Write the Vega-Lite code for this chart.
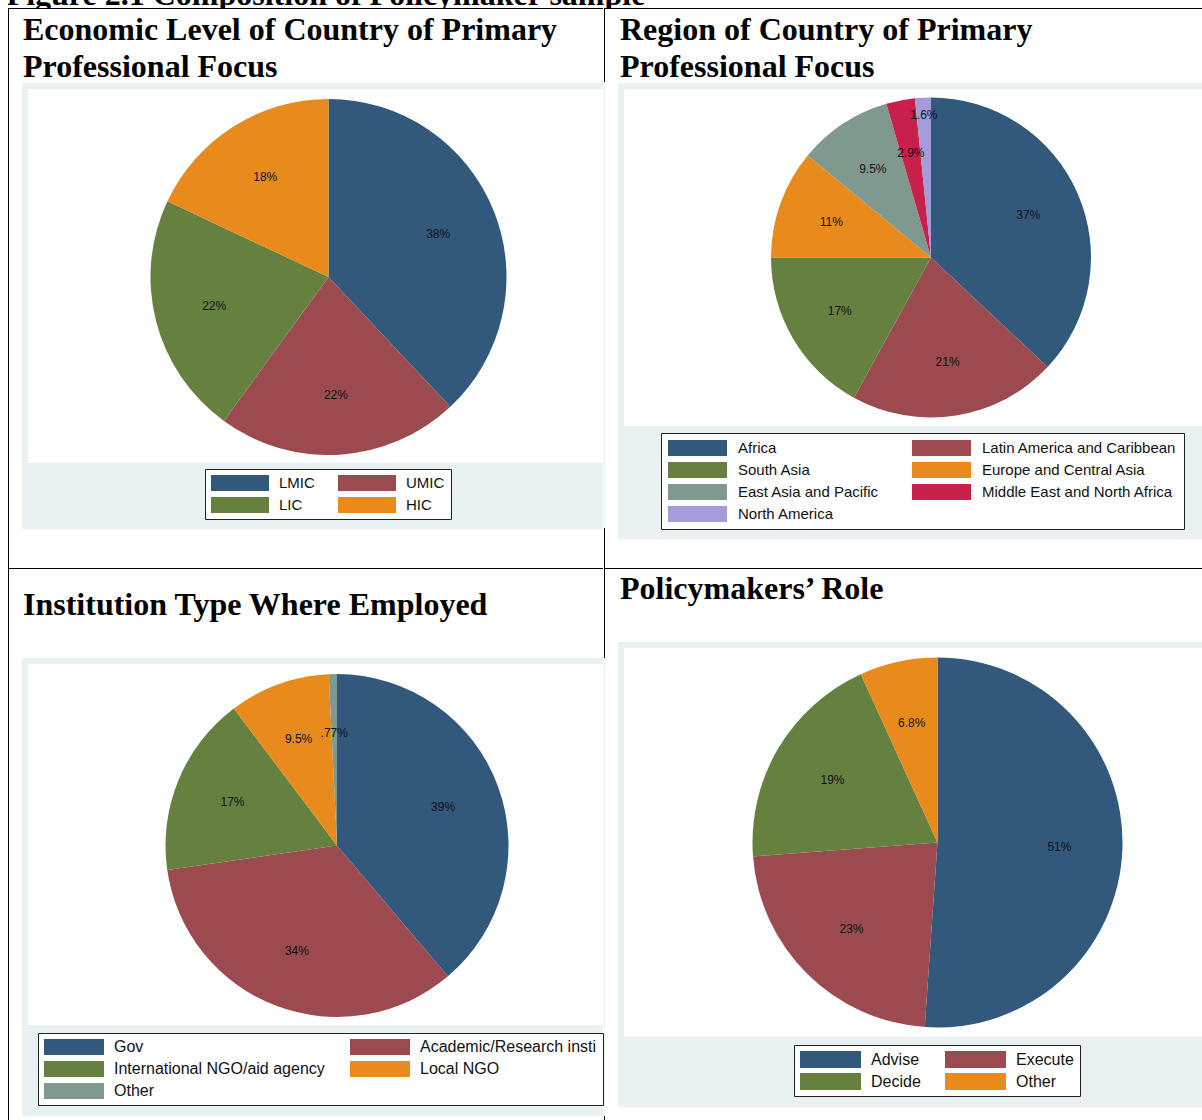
{
  "$schema": "https://vega.github.io/schema/vega-lite/v6.json",
  "padding": {"left": 8, "top": 0, "right": 0, "bottom": 0},
  "background": "#ffffff",
  "datasets": {
    "fig": [{"t": "Figure 2.1 Composition of Policymaker sample"}],
    "one": [{"z": 0}],
    "p1": [
      {"k": "LMIC", "v": 38, "i": 1, "lab": "38%"},
      {"k": "UMIC", "v": 22, "i": 2, "lab": "22%"},
      {"k": "LIC", "v": 22, "i": 3, "lab": "22%"},
      {"k": "HIC", "v": 18, "i": 4, "lab": "18%"}
    ],
    "p2": [
      {"k": "Africa", "v": 37, "i": 1, "lab": "37%"},
      {"k": "Latin America and Caribbean", "v": 21, "i": 2, "lab": "21%"},
      {"k": "South Asia", "v": 17, "i": 3, "lab": "17%"},
      {"k": "Europe and Central Asia", "v": 11, "i": 4, "lab": "11%"},
      {"k": "East Asia and Pacific", "v": 9.5, "i": 5, "lab": "9.5%"},
      {"k": "Middle East and North Africa", "v": 2.9, "i": 6, "lab": "2.9%"},
      {"k": "North America", "v": 1.6, "i": 7, "lab": "1.6%"}
    ],
    "p3": [
      {"k": "Gov", "v": 38.8, "i": 1, "lab": "39%"},
      {"k": "Academic/Research institution", "v": 33.9, "i": 2, "lab": "34%"},
      {"k": "International NGO/aid agency", "v": 17.0, "i": 3, "lab": "17%"},
      {"k": "Local NGO", "v": 9.5, "i": 4, "lab": "9.5%"},
      {"k": "Other", "v": 0.77, "i": 5, "lab": ".77%"}
    ],
    "p4": [
      {"k": "Advise", "v": 51.1, "i": 1, "lab": "51%"},
      {"k": "Execute", "v": 22.7, "i": 2, "lab": "23%"},
      {"k": "Decide", "v": 19.4, "i": 3, "lab": "19%"},
      {"k": "Other", "v": 6.8, "i": 4, "lab": "6.8%"}
    ]
  },
  "spacing": 0,
  "resolve": {"scale": {"color": "independent"}, "legend": {"color": "independent"}},
  "vconcat": [
    {
      "width": 636, "height": 8,
      "view": {"stroke": null},
      "data": {"name": "fig"},
      "mark": {"type": "text", "clip": true, "font": "Liberation Serif", "fontSize": 32, "fontWeight": "bold", "baseline": "alphabetic", "align": "center", "dy": 1, "fill": "#000000"},
      "encoding": {"text": {"field": "t", "type": "nominal"}}
    },
    {
      "spacing": 0,
      "resolve": {"scale": {"color": "independent"}, "legend": {"color": "independent"}},
      "hconcat": [
        {"width": 1, "height": 1112, "view": {"fill": "#000000", "stroke": null}, "data": {"name": "one"}, "mark": {"type": "point", "opacity": 0, "size": 0, "clip": true}, "encoding": {}},
        {
          "spacing": 0,
          "resolve": {"scale": {"color": "independent"}, "legend": {"color": "independent"}},
          "vconcat": [
            {
              "spacing": 5,
              "resolve": {"scale": {"color": "independent"}, "legend": {"color": "independent"}},
              "vconcat": [
                {"width": 594, "height": 1, "view": {"fill": "#000000", "stroke": null}, "data": {"name": "one"}, "mark": {"type": "point", "opacity": 0, "size": 0, "clip": true}, "encoding": {}},
                {
                  "spacing": 12,
                  "resolve": {"scale": {"color": "independent"}, "legend": {"color": "independent"}},
                  "hconcat": [
                    {"width": 1, "height": 485, "view": {"stroke": null}, "data": {"name": "one"}, "mark": {"type": "point", "opacity": 0, "size": 0, "clip": true}, "encoding": {}},
                    {
                      "title": {"text": ["Economic Level of Country of Primary", "Professional Focus"], "offset": -1, "dx": 1},
                      "spacing": 0,
                      "resolve": {"scale": {"color": "independent"}, "legend": {"color": "independent"}},
                      "hconcat": [
                        {"width": 6, "height": 446, "view": {"fill": "#EAF1F3", "stroke": null}, "data": {"name": "one"}, "mark": {"type": "point", "opacity": 0, "size": 0, "clip": true}, "encoding": {}},
                        {
                          "spacing": 0,
                          "resolve": {"scale": {"color": "independent"}, "legend": {"color": "independent"}},
                          "vconcat": [
                            {"width": 575, "height": 6, "view": {"fill": "#EAF1F3", "stroke": null}, "data": {"name": "one"}, "mark": {"type": "point", "opacity": 0, "size": 0, "clip": true}, "encoding": {}},
                            {
                              "width": 575, "height": 374,
                              "view": {"fill": "#ffffff", "stroke": null},
                              "data": {"name": "p1"},
                              "encoding": {
                                "theta": {"field": "v", "type": "quantitative", "stack": true},
                                "order": {"field": "i", "type": "quantitative"}
                              },
                              "layer": [
                                {"mark": {"type": "arc", "outerRadius": 178, "xOffset": 13, "yOffset": 1, "strokeWidth": 0},
                                 "encoding": {"color": {"field": "k", "type": "nominal", "legend": null,
                                   "scale": {"domain": ["LMIC", "LIC", "UMIC", "HIC"], "range": ["#32587C", "#66803F", "#9B4A4F", "#E88B1C"]}}}},
                                {"mark": {"type": "text", "radius": 118, "xOffset": 13, "yOffset": 1, "font": "Liberation Sans", "fontSize": 12, "fill": "#111111"},
                                 "encoding": {"detail": {"field": "k", "type": "nominal"}, "text": {"field": "lab", "type": "nominal"}}}
                              ]
                            },
                            {
                              "width": 575, "height": 66,
                              "view": {"fill": "#EAF1F3", "stroke": null},
                              "data": {"name": "p1"},
                              "mark": {"type": "square", "opacity": 0},
                              "encoding": {"color": {"field": "k", "type": "nominal",
                                "scale": {"domain": ["LMIC", "LIC", "UMIC", "HIC"], "range": ["#32587C", "#66803F", "#9B4A4F", "#E88B1C"]},
                                "legend": {"orient": "none", "legendX": 177, "legendY": 6, "title": null, "columns": 2,
                                  "symbolType": "M-3.625,-1H3.625V1H-3.625Z", "symbolSize": 256, "symbolOffset": 21, "labelOffset": 31,
                                  "rowPadding": 6, "columnPadding": 23, "padding": 6, "labelFontSize": 15}}}
                            }
                          ]
                        }
                      ]
                    }
                  ]
                }
              ]
            },
            {
              "spacing": 20,
              "resolve": {"scale": {"color": "independent"}, "legend": {"color": "independent"}},
              "vconcat": [
                {"width": 594, "height": 1, "view": {"fill": "#000000", "stroke": null}, "data": {"name": "one"}, "mark": {"type": "point", "opacity": 0, "size": 0, "clip": true}, "encoding": {}},
                {
                  "spacing": 12,
                  "resolve": {"scale": {"color": "independent"}, "legend": {"color": "independent"}},
                  "hconcat": [
                    {"width": 1, "height": 470, "view": {"stroke": null}, "data": {"name": "one"}, "mark": {"type": "point", "opacity": 0, "size": 0, "clip": true}, "encoding": {}},
                    {
                      "title": {"text": "Institution Type Where Employed", "offset": 36, "dx": 1},
                      "spacing": 0,
                      "resolve": {"scale": {"color": "independent"}, "legend": {"color": "independent"}},
                      "hconcat": [
                        {"width": 6, "height": 458, "view": {"fill": "#EAF1F3", "stroke": null}, "data": {"name": "one"}, "mark": {"type": "point", "opacity": 0, "size": 0, "clip": true}, "encoding": {}},
                        {
                          "spacing": 0,
                          "resolve": {"scale": {"color": "independent"}, "legend": {"color": "independent"}},
                          "vconcat": [
                            {"width": 575, "height": 6, "view": {"fill": "#EAF1F3", "stroke": null}, "data": {"name": "one"}, "mark": {"type": "point", "opacity": 0, "size": 0, "clip": true}, "encoding": {}},
                            {
                              "width": 575, "height": 361,
                              "view": {"fill": "#ffffff", "stroke": null},
                              "data": {"name": "p3"},
                              "encoding": {
                                "theta": {"field": "v", "type": "quantitative", "stack": true},
                                "order": {"field": "i", "type": "quantitative"}
                              },
                              "layer": [
                                {"mark": {"type": "arc", "outerRadius": 171.5, "xOffset": 21.5, "yOffset": 1, "strokeWidth": 0},
                                 "encoding": {"color": {"field": "k", "type": "nominal", "legend": null,
                                   "scale": {"domain": ["Gov", "International NGO/aid agency", "Other", "Academic/Research institution", "Local NGO"], "range": ["#32587C", "#66803F", "#7F998E", "#9B4A4F", "#E88B1C"]}}}},
                                {"mark": {"type": "text", "radius": 113, "xOffset": 21.5, "yOffset": 1, "font": "Liberation Sans", "fontSize": 12, "fill": "#111111"},
                                 "encoding": {"detail": {"field": "k", "type": "nominal"}, "text": {"field": "lab", "type": "nominal"}}}
                              ]
                            },
                            {
                              "width": 575, "height": 91,
                              "view": {"fill": "#EAF1F3", "stroke": null},
                              "data": {"name": "p3"},
                              "mark": {"type": "square", "opacity": 0},
                              "encoding": {"color": {"field": "k", "type": "nominal",
                                "scale": {"domain": ["Gov", "International NGO/aid agency", "Other", "Academic/Research institution", "Local NGO"], "range": ["#32587C", "#66803F", "#7F998E", "#9B4A4F", "#E88B1C"]},
                                "legend": {"orient": "none", "legendX": 10, "legendY": 8, "title": null, "columns": 2,
                                  "labelExpr": "datum.label == 'Academic/Research institution' ? 'Academic/Research insti' : datum.label",
                                  "symbolType": "M-3.75,-1H3.75V1H-3.75Z", "symbolSize": 256, "symbolOffset": 22, "labelOffset": 32,
                                  "rowPadding": 6, "columnPadding": 25, "padding": 6, "labelFontSize": 16}}}
                            }
                          ]
                        }
                      ]
                    }
                  ]
                }
              ]
            }
          ]
        },
        {
          "spacing": 0,
          "vconcat": [
            {"width": 1, "height": 74, "view": {"fill": "#000000", "stroke": null}, "data": {"name": "one"}, "mark": {"type": "point", "opacity": 0, "size": 0, "clip": true}, "encoding": {}},
            {"width": 1, "height": 446, "view": {"fill": "#EAF1F3", "stroke": null}, "data": {"name": "one"}, "mark": {"type": "point", "opacity": 0, "size": 0, "clip": true}, "encoding": {}},
            {"width": 1, "height": 130, "view": {"fill": "#000000", "stroke": null}, "data": {"name": "one"}, "mark": {"type": "point", "opacity": 0, "size": 0, "clip": true}, "encoding": {}},
            {"width": 1, "height": 458, "view": {"fill": "#EAF1F3", "stroke": null}, "data": {"name": "one"}, "mark": {"type": "point", "opacity": 0, "size": 0, "clip": true}, "encoding": {}},
            {"width": 1, "height": 10, "view": {"fill": "#000000", "stroke": null}, "data": {"name": "one"}, "mark": {"type": "point", "opacity": 0, "size": 0, "clip": true}, "encoding": {}}
          ]
        },
        {
          "spacing": 0,
          "resolve": {"scale": {"color": "independent"}, "legend": {"color": "independent"}},
          "vconcat": [
            {
              "spacing": 5,
              "resolve": {"scale": {"color": "independent"}, "legend": {"color": "independent"}},
              "vconcat": [
                {"width": 598, "height": 1, "view": {"fill": "#000000", "stroke": null}, "data": {"name": "one"}, "mark": {"type": "point", "opacity": 0, "size": 0, "clip": true}, "encoding": {}},
                {
                  "spacing": 12,
                  "resolve": {"scale": {"color": "independent"}, "legend": {"color": "independent"}},
                  "hconcat": [
                    {"width": 1, "height": 485, "view": {"stroke": null}, "data": {"name": "one"}, "mark": {"type": "point", "opacity": 0, "size": 0, "clip": true}, "encoding": {}},
                    {
                      "title": {"text": ["Region of Country of Primary", "Professional Focus"], "offset": -1, "dx": 2},
                      "spacing": 0,
                      "resolve": {"scale": {"color": "independent"}, "legend": {"color": "independent"}},
                      "hconcat": [
                        {"width": 6, "height": 456, "view": {"fill": "#EAF1F3", "stroke": null}, "data": {"name": "one"}, "mark": {"type": "point", "opacity": 0, "size": 0, "clip": true}, "encoding": {}},
                        {
                          "spacing": 0,
                          "resolve": {"scale": {"color": "independent"}, "legend": {"color": "independent"}},
                          "vconcat": [
                            {"width": 579, "height": 6, "view": {"fill": "#EAF1F3", "stroke": null}, "data": {"name": "one"}, "mark": {"type": "point", "opacity": 0, "size": 0, "clip": true}, "encoding": {}},
                            {
                              "width": 579, "height": 337,
                              "view": {"fill": "#ffffff", "stroke": null},
                              "data": {"name": "p2"},
                              "encoding": {
                                "theta": {"field": "v", "type": "quantitative", "stack": true},
                                "order": {"field": "i", "type": "quantitative"}
                              },
                              "layer": [
                                {"mark": {"type": "arc", "outerRadius": 160, "xOffset": 17.5, "strokeWidth": 0},
                                 "encoding": {"color": {"field": "k", "type": "nominal", "legend": null,
                                   "scale": {"domain": ["Africa", "South Asia", "East Asia and Pacific", "North America", "Latin America and Caribbean", "Europe and Central Asia", "Middle East and North Africa"], "range": ["#32587C", "#66803F", "#7F998E", "#A39BDA", "#9B4A4F", "#E88B1C", "#C8204A"]}}}},
                                {"mark": {"type": "text", "radius": 106, "xOffset": 17.5, "font": "Liberation Sans", "fontSize": 12, "fill": "#111111"},
                                 "encoding": {"detail": {"field": "k", "type": "nominal"},
                                   "text": {"field": "lab", "type": "nominal", "condition": {"test": "datum.k === 'North America'", "value": ""}}}},
                                {"mark": {"type": "text", "radius": 143, "xOffset": 17.5, "font": "Liberation Sans", "fontSize": 12, "fill": "#111111"},
                                 "encoding": {"detail": {"field": "k", "type": "nominal"},
                                   "text": {"field": "lab", "type": "nominal", "condition": {"test": "datum.k !== 'North America'", "value": ""}}}}
                              ]
                            },
                            {
                              "width": 579, "height": 113,
                              "view": {"fill": "#EAF1F3", "stroke": null},
                              "data": {"name": "p2"},
                              "mark": {"type": "square", "opacity": 0},
                              "encoding": {"color": {"field": "k", "type": "nominal",
                                "scale": {"domain": ["Africa", "South Asia", "East Asia and Pacific", "North America", "Latin America and Caribbean", "Europe and Central Asia", "Middle East and North Africa"], "range": ["#32587C", "#66803F", "#7F998E", "#A39BDA", "#9B4A4F", "#E88B1C", "#C8204A"]},
                                "legend": {"orient": "none", "legendX": 37, "legendY": 7, "title": null, "columns": 2,
                                  "labelExpr": "datum.label == 'Latin America and Caribbean' ? datum.label + '\u00a0\u00a0\u00a0' : datum.label",
                                  "symbolType": "M-3.6875,-1H3.6875V1H-3.6875Z", "symbolSize": 256, "symbolOffset": 21.5, "labelOffset": 32.5,
                                  "rowPadding": 6, "columnPadding": 33, "padding": 7, "labelFontSize": 15}}}
                            }
                          ]
                        }
                      ]
                    }
                  ]
                }
              ]
            },
            {
              "spacing": 4,
              "resolve": {"scale": {"color": "independent"}, "legend": {"color": "independent"}},
              "vconcat": [
                {"width": 598, "height": 1, "view": {"fill": "#000000", "stroke": null}, "data": {"name": "one"}, "mark": {"type": "point", "opacity": 0, "size": 0, "clip": true}, "encoding": {}},
                {
                  "spacing": 12,
                  "resolve": {"scale": {"color": "independent"}, "legend": {"color": "independent"}},
                  "hconcat": [
                    {"width": 1, "height": 480, "view": {"stroke": null}, "data": {"name": "one"}, "mark": {"type": "point", "opacity": 0, "size": 0, "clip": true}, "encoding": {}},
                    {
                      "title": {"text": "Policymakers’ Role", "offset": 36, "dx": 2},
                      "spacing": 0,
                      "resolve": {"scale": {"color": "independent"}, "legend": {"color": "independent"}},
                      "hconcat": [
                        {"width": 6, "height": 465, "view": {"fill": "#EAF1F3", "stroke": null}, "data": {"name": "one"}, "mark": {"type": "point", "opacity": 0, "size": 0, "clip": true}, "encoding": {}},
                        {
                          "spacing": 0,
                          "resolve": {"scale": {"color": "independent"}, "legend": {"color": "independent"}},
                          "vconcat": [
                            {"width": 579, "height": 6, "view": {"fill": "#EAF1F3", "stroke": null}, "data": {"name": "one"}, "mark": {"type": "point", "opacity": 0, "size": 0, "clip": true}, "encoding": {}},
                            {
                              "width": 579, "height": 389,
                              "view": {"fill": "#ffffff", "stroke": null},
                              "data": {"name": "p4"},
                              "encoding": {
                                "theta": {"field": "v", "type": "quantitative", "stack": true},
                                "order": {"field": "i", "type": "quantitative"}
                              },
                              "layer": [
                                {"mark": {"type": "arc", "outerRadius": 185, "xOffset": 24, "strokeWidth": 0},
                                 "encoding": {"color": {"field": "k", "type": "nominal", "legend": null,
                                   "scale": {"domain": ["Advise", "Decide", "Execute", "Other"], "range": ["#32587C", "#66803F", "#9B4A4F", "#E88B1C"]}}}},
                                {"mark": {"type": "text", "radius": 122, "xOffset": 24, "font": "Liberation Sans", "fontSize": 12, "fill": "#111111"},
                                 "encoding": {"detail": {"field": "k", "type": "nominal"}, "text": {"field": "lab", "type": "nominal"}}}
                              ]
                            },
                            {
                              "width": 579, "height": 70,
                              "view": {"fill": "#EAF1F3", "stroke": null},
                              "data": {"name": "p4"},
                              "mark": {"type": "square", "opacity": 0},
                              "encoding": {"color": {"field": "k", "type": "nominal",
                                "scale": {"domain": ["Advise", "Decide", "Execute", "Other"], "range": ["#32587C", "#66803F", "#9B4A4F", "#E88B1C"]},
                                "legend": {"orient": "none", "legendX": 170, "legendY": 8, "title": null, "columns": 2,
                                  "symbolType": "M-3.588,-1H3.588V1H-3.588Z", "symbolSize": 289, "symbolOffset": 22, "labelOffset": 32,
                                  "rowPadding": 5, "columnPadding": 24, "padding": 6, "labelFontSize": 16}}}
                            }
                          ]
                        }
                      ]
                    }
                  ]
                }
              ]
            }
          ]
        }
      ]
    }
  ],
  "config": {
    "view": {"stroke": null},
    "title": {"font": "Liberation Serif", "fontSize": 32, "fontWeight": "bold", "color": "#000000", "anchor": "start", "lineHeight": 37},
    "legend": {"strokeColor": "#222222", "fillColor": "#ffffff", "cornerRadius": 0, "labelFont": "Liberation Sans", "labelColor": "#111111", "symbolStrokeWidth": 0, "symbolOpacity": 1, "labelLimit": 400, "labelBaseline": "middle"}
  }
}
